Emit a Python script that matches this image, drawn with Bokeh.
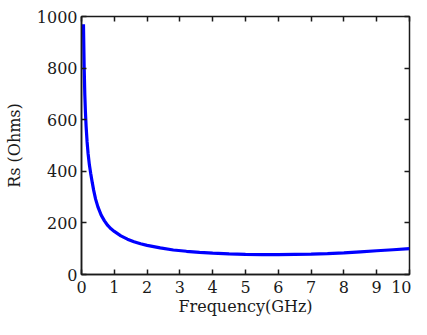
from bokeh.plotting import figure
from bokeh.models import LinearAxis, FixedTicker, Range1d
from bokeh.embed import file_html
from bokeh.resources import INLINE

freq_ghz = [0.06, 0.08, 0.10, 0.12, 0.14, 0.17, 0.20, 0.24, 0.28, 0.33, 0.37, 0.43, 0.50,
            0.60, 0.70, 0.80, 0.90, 1.00, 1.20, 1.40, 1.60, 1.80, 2.00, 2.40, 2.80, 3.20,
            3.60, 4.00, 4.50, 5.00, 5.50, 6.00, 6.50, 7.00, 7.50, 8.00, 8.50, 9.00, 9.50, 10.0]
rs_ohms = [970, 810, 700, 630, 575, 515, 470, 425, 392, 355, 327, 292, 262,
           230, 208, 190, 177, 167, 150, 137, 127, 119, 113, 103, 95, 90,
           86, 83, 80, 78, 77, 77, 78, 79, 81, 84, 88, 92, 96, 100]
x_ticks = [0, 1, 2, 3, 4, 5, 6, 7, 8, 9, 10]
y_ticks = [0, 200, 400, 600, 800, 1000]

FONT = "DejaVu Serif"
INK = "#1a1a1a"

p = figure(width=411, height=319, output_backend="svg", toolbar_location=None,
           x_range=Range1d(0, 10), y_range=Range1d(0, 1000),
           min_border_left=81, min_border_right=2, min_border_top=16, min_border_bottom=45)
p.xgrid.visible = False
p.ygrid.visible = False
p.background_fill_color = "white"
p.border_fill_color = "white"
p.outline_line_color = INK
p.outline_line_width = 1.5

p.line(freq_ghz, rs_ohms, line_color="#0000ff", line_width=3.2)

for ax in (p.xaxis[0], p.yaxis[0]):
    ax.major_tick_in = 5
    ax.major_tick_out = 0
    ax.minor_tick_in = 0
    ax.minor_tick_out = 0
    ax.axis_line_color = INK
    ax.axis_line_width = 1.5
    ax.major_tick_line_color = INK
    ax.major_tick_line_width = 1.5
    ax.major_label_text_font = FONT
    ax.major_label_text_font_size = "16px"
    ax.major_label_text_color = INK
    ax.axis_label_text_font = FONT
    ax.axis_label_text_font_size = "16px"
    ax.axis_label_text_font_style = "normal"
    ax.axis_label_text_color = INK

p.xaxis[0].ticker = FixedTicker(ticks=x_ticks)
p.yaxis[0].ticker = FixedTicker(ticks=y_ticks)
p.xaxis[0].axis_label = "Frequency(GHz)"
p.yaxis[0].axis_label = "Rs (Ohms)"
p.xaxis[0].major_label_standoff = 6
p.yaxis[0].major_label_standoff = 4
p.xaxis[0].axis_label_standoff = 1
p.yaxis[0].axis_label_standoff = 10

top = LinearAxis(ticker=FixedTicker(ticks=x_ticks), major_label_text_font_size="1px",
                 major_label_text_color=None,
                 major_label_standoff=0, major_tick_in=5, major_tick_out=0,
                 minor_tick_in=0, minor_tick_out=0, axis_line_color=None,
                 major_tick_line_color=INK, major_tick_line_width=1.5)
right = LinearAxis(ticker=FixedTicker(ticks=y_ticks), major_label_text_font_size="1px",
                   major_label_text_color=None,
                   major_label_standoff=0, major_tick_in=5, major_tick_out=0,
                   minor_tick_in=0, minor_tick_out=0, axis_line_color=None,
                   major_tick_line_color=INK, major_tick_line_width=1.5)
p.add_layout(top, "above")
p.add_layout(right, "right")

open("out.html", "w").write(file_html(p, INLINE))
